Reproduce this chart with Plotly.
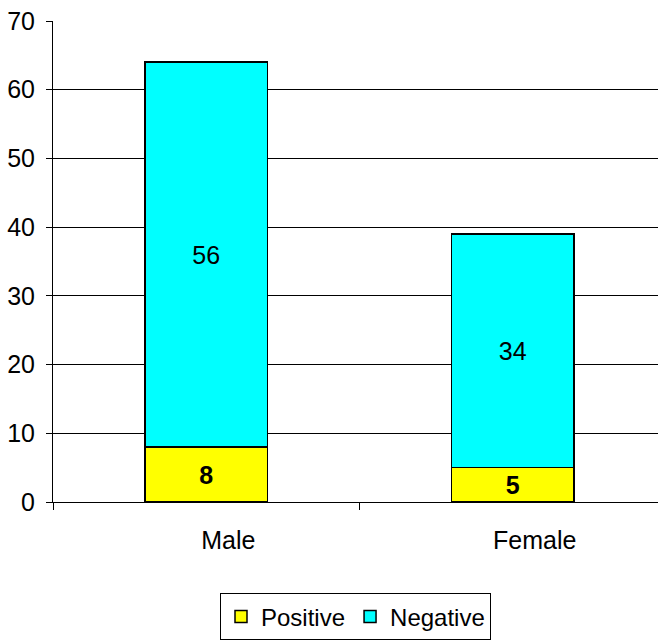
import plotly.graph_objects as go

categories = ["Male", "Female"]
positive = [8, 5]
negative = [56, 34]
y_ticks = [0, 10, 20, 30, 40, 50, 60, 70]

FONT = "Liberation Sans Narrow, Arial Narrow, Liberation Sans, Arial, sans-serif"
xpos = list(range(len(categories)))
label_pos = [p + 0.072 for p in xpos]

fig = go.Figure()
fig.add_trace(go.Bar(
    x=xpos, y=positive, name="Positive", width=0.4,
    marker=dict(color="#FFFF00", line=dict(color="black", width=1.5)),
    text=[str(v) for v in positive], textposition="inside", insidetextanchor="middle",
    textfont=dict(family=FONT, size=25, color="black", weight="bold"),
))
fig.add_trace(go.Bar(
    x=xpos, y=negative, name="Negative", width=0.4,
    marker=dict(color="#00FFFF", line=dict(color="black", width=1.5)),
    text=[str(v) for v in negative], textposition="inside", insidetextanchor="middle",
    textfont=dict(family=FONT, size=25, color="black"),
))
# invisible trace to drive the category-boundary tick axis
fig.add_trace(go.Scatter(x=[-0.5, 1.5], y=[0, 0], xaxis="x2", mode="none",
                         showlegend=False, hoverinfo="skip"))

fig.update_layout(
    barmode="stack",
    width=658, height=644,
    margin=dict(l=53, r=0, t=21, b=142),
    paper_bgcolor="white", plot_bgcolor="white",
    font=dict(family=FONT, size=25, color="black"),
    xaxis=dict(range=[-0.5, 1.474], tickmode="array", tickvals=label_pos, ticktext=categories,
               ticks="", showgrid=False, zeroline=False, showline=True,
               linecolor="black", linewidth=1, tickfont=dict(size=25), ticklabelstandoff=16),
    xaxis2=dict(range=[-0.5, 1.474], overlaying="x", side="bottom", tickmode="array",
                tickvals=[-0.5, 0.5, 1.5], showticklabels=False, ticks="outside",
                ticklen=7, tickcolor="black", showgrid=False, zeroline=False, showline=False),
    yaxis=dict(range=[0, 70], tickmode="array", tickvals=y_ticks, ticks="outside",
               ticklen=6, tickcolor="black", showgrid=True, gridcolor="black", gridwidth=1,
               zeroline=False, showline=True, linecolor="black", linewidth=1,
               tickfont=dict(size=25), ticklabelstandoff=6),
    legend=dict(orientation="h", x=0.5, xanchor="center", y=-0.19, yanchor="top",
                bordercolor="black", borderwidth=1, font=dict(size=24),
                itemwidth=30, traceorder="normal", tracegroupgap=0),
    bargap=0.6,
)

fig.write_html("out.html")
